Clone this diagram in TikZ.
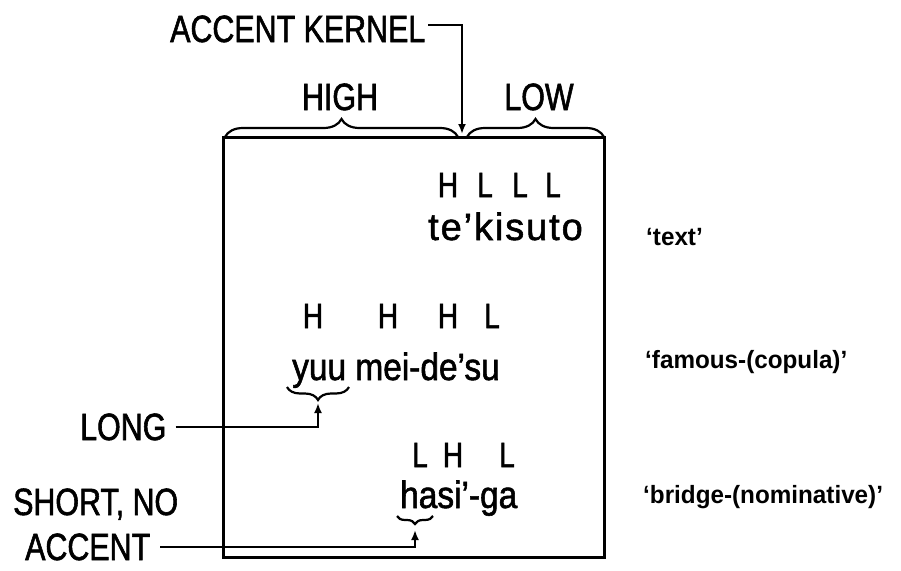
\documentclass[tikz,border=0pt]{standalone}
\usepackage{fontspec}
\setmainfont{Liberation Sans}[FakeStretch=0.8,FakeBold=1.5]
\newfontfamily\wordfont{Liberation Sans}[FakeStretch=0.88,FakeBold=1.5]
\newfontfamily\wordwide{Liberation Sans}[LetterSpace=5,FakeBold=1.5]
\newfontfamily\glossfont{Liberation Sans}[FakeStretch=0.97]
\usetikzlibrary{arrows.meta,decorations.pathreplacing}
\tikzset{
  lbl/.style={inner sep=0pt, anchor=base west, font=\fontsize{38}{40}\selectfont},
  lblc/.style={inner sep=0pt, anchor=base, font=\fontsize{38}{40}\selectfont},
  tone/.style={inner sep=0pt, anchor=base, font=\fontsize{35}{38}\selectfont},
  word/.style={inner sep=0pt, anchor=base west, font=\wordfont\fontsize{38}{40}\selectfont},
  gloss/.style={inner sep=0pt, anchor=base west, font=\glossfont\bfseries\fontsize{25}{28}\selectfont},
  conn/.style={line width=2.4pt, -{Latex[length=10pt,width=8pt]}},
  brc/.style={line width=2.2pt, decorate, decoration={brace, amplitude=#1}},
  frame/.style={line width=3pt}
}
\begin{document}
\begin{tikzpicture}[x=1pt,y=-1pt]
\useasboundingbox (0,0) rectangle (901,570);
% frame
\draw[frame] (223,137) rectangle (604,557);
% top braces
\draw[brc=18] (225,137) -- (458,137);
\draw[brc=18] (467,137) -- (604,137);
\node[lblc] (high) at (340,110) {HIGH};
\node[lblc] (low) at (539,110) {LOW};
% accent kernel
\node[lbl] (ak) at (170,42) {ACCENT KERNEL};
\coordinate (kernel) at (462,134);
\draw[conn] ([xshift=3pt,yshift=4pt]ak.east) -| (kernel);
% row 1
\node[tone] (t11) at (448,197) {H};
\node[tone] (t12) at (485,197) {L};
\node[tone] (t13) at (520,197) {L};
\node[tone] (t14) at (553,197) {L};
\node[word, font=\wordwide\fontsize{38}{40}\selectfont] (w1) at (428,240) {te’kisuto};
\node[gloss] (g1) at (646,245) {‘text’};
% row 2
\node[tone] (t21) at (313,328) {H};
\node[tone] (t22) at (388,328) {H};
\node[tone] (t23) at (448,328) {H};
\node[tone] (t24) at (492,328) {L};
\node[word] (w2) at (292,380) {yuu mei-de’su};
\node[gloss] (g2) at (645,368) {‘famous-(copula)’};
\draw[brc=13] (349,387) -- (287,387);
\coordinate (yuutip) at (318,403);
\node[lbl] (long) at (80,440) {LONG};
\draw[conn] ([xshift=9pt]long.east) -| (yuutip);
% row 3
\node[tone] (t31) at (420,467) {L};
\node[tone] (t32) at (453,467) {H};
\node[tone] (t33) at (507,467) {L};
\node[word] (w3) at (400,508) {hasi’-ga};
\node[gloss] (g3) at (643,503) {‘bridge-(nominative)’};
\draw[brc=8] (433,516) -- (397,516);
\coordinate (hatip) at (415,530);
\node[lbl] (short) at (13,515) {SHORT, NO};
\node[lbl] (acc) at (25,560) {ACCENT};
\draw[conn] ([xshift=10pt]acc.east) -| (hatip);
\end{tikzpicture}
\end{document}
